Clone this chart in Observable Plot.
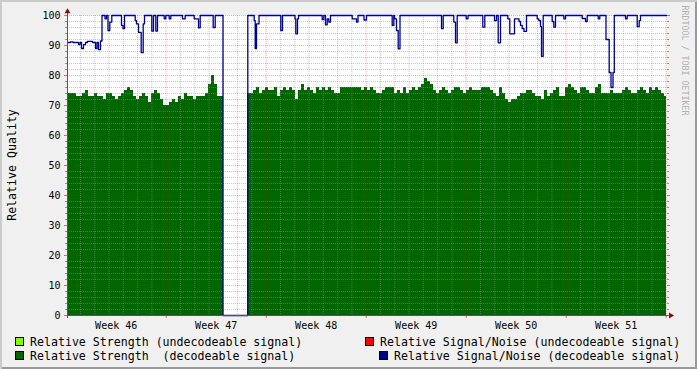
<!DOCTYPE html>
<html><head><meta charset="utf-8">
<script src="https://cdn.jsdelivr.net/npm/d3@7"></script>
<script src="https://cdn.jsdelivr.net/npm/@observablehq/plot@0.6"></script>
<style>
html,body{margin:0;padding:0;background:#f0f0f0;}
#wrap{position:relative;width:697px;height:369px;background:#f0f0f0;overflow:hidden;font-family:"DejaVu Sans Mono",monospace;}
#chart{position:absolute;left:0;top:0;}
#shade{position:absolute;left:0;top:0;width:697px;height:369px;box-shadow:inset 2px 2px 0 #cbcbcb, inset -2px -2px 0 #999;pointer-events:none;}
.leg{position:absolute;font-size:11.6px;line-height:14px;white-space:pre;color:#000;}
.sw{position:absolute;width:7px;height:7px;border:1px solid #000;}
</style></head><body>
<div id="wrap"><div id="chart"></div><div id="legend"></div><div id="shade"></div></div>
<script>
// ---- data ----
const weekLabels = ["Week 46","Week 47","Week 48","Week 49","Week 50","Week 51"];
const weekCenters = [0.5, 1.5, 2.5, 3.5, 4.5, 5.5];   // weeks since Monday of week 46
const yTicks = [0,10,20,30,40,50,60,70,80,90,100];
const xStart = 0.013, xEnd = 6.003, sampleStep = 0.03; // time in weeks
const yTitle = "Relative Quality";
const watermark = "RRDTOOL / TOBI OETIKER";

// Relative Strength (decodeable signal), one sample per step, null = no data
const strength = [
 74,74,74,73,73,74,75,73,73,74,
 73,73,72,74,74,73,72,73,74,75,
 76,75,73,72,73,74,73,71,74,75,
 74,72,70,70,71,72,71,73,72,74,
 73,73,72,73,73,73,74,77,80,77,
 73,73,
 null,null,null,null,null,null,null,null,
 74,74,75,76,74,75,76,75,75,76,
 73,75,76,75,76,75,72,75,77,75,
 76,75,74,76,75,76,75,76,75,74,
 74,76,76,76,76,76,76,76,75,76,
 75,76,75,74,74,75,76,76,76,74,
 75,74,76,74,75,76,75,76,77,79,
 78,77,75,74,75,76,75,74,75,76,
 76,75,74,75,76,75,75,75,76,76,
 76,75,74,73,76,74,72,71,72,72,
 73,74,74,75,75,74,73,73,72,75,
 73,74,75,76,73,73,76,77,76,75,
 74,76,76,75,74,74,76,77,74,74,
 74,75,74,74,74,75,76,75,74,74,
 75,76,75,74,76,75,76,75,74,73
];

// Relative Signal/Noise (decodeable signal): change points (weeks) and values
const snTime = [
 0.013,0.043,0.068,0.123,0.138,0.153,0.173,0.193,0.213,0.263,
 0.293,0.308,0.323,0.343,0.358,0.388,0.403,0.418,0.436,0.456,
 0.553,0.568,0.583,0.690,0.703,0.723,0.750,0.770,0.783,0.856,
 0.873,0.896,0.913,0.980,0.996,1.030,1.046,1.163,1.190,1.280,
 1.323,1.340,1.470,1.490,1.568,1.816,1.880,1.890,1.903,1.928,
 2.146,2.163,2.288,2.296,2.313,2.323,2.560,2.576,2.593,2.610,
 2.626,2.643,2.860,2.903,2.918,2.978,3.003,3.260,3.276,3.283,
 3.303,3.320,3.338,3.753,3.770,3.876,3.893,3.910,4.000,4.018,
 4.166,4.186,4.283,4.303,4.320,4.343,4.416,4.436,4.483,4.528,
 4.543,4.560,4.578,4.603,4.710,4.726,4.743,4.753,4.770,4.860,
 4.876,4.893,4.976,4.993,5.160,5.193,5.210,5.320,5.336,5.398,
 5.430,5.448,5.468,5.481,5.593,5.610,5.710,5.730,5.743,6.003
];
const snValue = [
 91,91.2,91,90.3,91,89,90.3,91,91.4,91,
 89,91,88.6,91.5,100,98.9,100,95,97.8,100,
 96.7,95.6,100,98.3,97.2,94.4,87.6,97.2,100,94.8,
 100,94.8,100,98.9,100,98.9,100,98.9,100,98.9,
 95.9,100,96,100,0,100,98.3,89,97.2,100,
 95,100,98.9,93.9,98.9,100,98.6,100,96.9,98.9,
 97.8,100,98.9,97.8,100,98.5,100,96.7,100,98.9,
 95,88.9,100,95.6,100,97.8,90.9,100,98.9,100,
 96.1,100,98.3,100,90.9,100,98.9,93.9,98.9,98,
 96.7,95.6,94.7,100,98.9,98.3,96.3,86.4,100,98,
 96.1,100,98.9,100,99,98,100,98.9,100,92,
 81,76,81,100,98.9,100,96.3,98.3,100,100
];

const legendLabels = [
 "Relative Strength (undecodeable signal)",
 "Relative Signal/Noise (undecodeable signal)",
 "Relative Strength  (decodeable signal)",
 "Relative Signal/Noise (decodeable signal)"
];
const legendColors = ["#80ff00", "#ff0000", "#006600", "#000090"];

// ---- derived tables ----
const strengthData = strength.map((v, i) => ({
  x1: xStart + i * sampleStep,
  x2: Math.min(xStart + (i + 1) * sampleStep, xEnd),
  y: v
})).filter(d => d.y != null);
const snData = snTime.map((t, i) => ({t, v: snValue[i]}));

const minorX = d3.range(1, 42).filter(k => k % 7).map(k => k / 7);
const majorX = [1, 2, 3, 4, 5, 6];
const minorY = d3.range(2, 100, 2).filter(v => v % 10);
const majorY = d3.range(10, 101, 10);

const gridMinor = {stroke: "#8f8f8f", strokeOpacity: 0.5, strokeDasharray: "1,1"};
const gridMajor = {stroke: "#f00000", strokeOpacity: 0.33, strokeDasharray: "1,1"};

const chart = Plot.plot({
  width: 697, height: 332,
  marginLeft: 67, marginRight: 31, marginTop: 15, marginBottom: 17,
  x: {domain: [xStart, xEnd]},
  y: {domain: [0, 100]},
  style: {fontFamily: '"DejaVu Sans Mono", monospace', fontSize: "10px", background: "none", overflow: "visible", color: "black"},
  marks: [
    Plot.frame({fill: "white", stroke: "none"}),
    Plot.rect(strengthData, {x1: "x1", x2: "x2", y1: 0, y2: "y", fill: "#006600", shapeRendering: "crispEdges"}),
    Plot.ruleX(minorX, gridMinor),
    Plot.ruleY(minorY, gridMinor),
    Plot.ruleX(majorX, gridMajor),
    Plot.ruleY(majorY, gridMajor),
    Plot.line(snData, {x: "t", y: "v", curve: "step-after", stroke: "#000090", strokeWidth: 1.3}),
    // axes
    Plot.axisY(minorY, {anchor: "left", tickSize: 2, tickFormat: () => "", stroke: "#8f8f8f", label: null}),
    Plot.axisY(minorY, {anchor: "right", tickSize: 2, tickFormat: () => "", stroke: "#8f8f8f", label: null}),
    Plot.axisY(yTicks, {anchor: "left", tickSize: 3, tickPadding: 4, stroke: "#d07070", fill: "black", label: null}),
    Plot.axisY(yTicks, {anchor: "right", tickSize: 3, tickFormat: () => "", stroke: "#d07070", label: null}),
    Plot.axisX(majorX, {tickSize: 3, tickFormat: () => "", stroke: "#d07070", label: null}),
    Plot.axisX(weekCenters, {tickSize: 0, tickPadding: 6, tickFormat: d => weekLabels[weekCenters.indexOf(d)], fill: "black", label: null}),
    Plot.ruleX([xStart], {y1: -1, y2: 101, stroke: "#555"}),
    Plot.ruleY([0], {x1: xStart, x2: 6.025, stroke: "#555"}),
    Plot.dot([0], {x: () => 6.045, y: 0, symbol: "triangle", rotate: 90, r: 2.2, fill: "#801010", stroke: "none"}),
    Plot.dot([0], {x: () => xStart, y: () => 101.3, symbol: "triangle", r: 2.2, fill: "#801010", stroke: "none"}),
    Plot.text([watermark], {frameAnchor: "top-right", rotate: 90, textAnchor: "start", dx: 21, dy: -10, fontSize: 8.3, fill: "#b0b0b0"})
  ]
});
// y-axis title, centred on the plot frame
d3.select(chart).append("text")
  .attr("transform", "translate(12,165) rotate(-90)")
  .attr("text-anchor", "middle")
  .attr("dy", "0.35em")
  .attr("font-size", "11.6px")
  .attr("fill", "black")
  .text(yTitle);
document.getElementById("chart").appendChild(chart);

// ---- legend ----
const legPos = [
  {sx: 15, sy: 337, tx: 30, ty: 334.5},
  {sx: 365, sy: 337, tx: 380, ty: 334.5},
  {sx: 15, sy: 351, tx: 30, ty: 348.5},
  {sx: 379, sy: 351, tx: 394, ty: 348.5}
];
const legend = document.getElementById("legend");
legendLabels.forEach((lab, i) => {
  const p = legPos[i];
  const sw = document.createElement("div");
  sw.className = "sw";
  sw.style.left = p.sx + "px"; sw.style.top = p.sy + "px";
  sw.style.background = legendColors[i];
  legend.appendChild(sw);
  const t = document.createElement("div");
  t.className = "leg";
  t.style.left = p.tx + "px"; t.style.top = p.ty + "px";
  t.textContent = lab;
  legend.appendChild(t);
});
</script></body></html>
